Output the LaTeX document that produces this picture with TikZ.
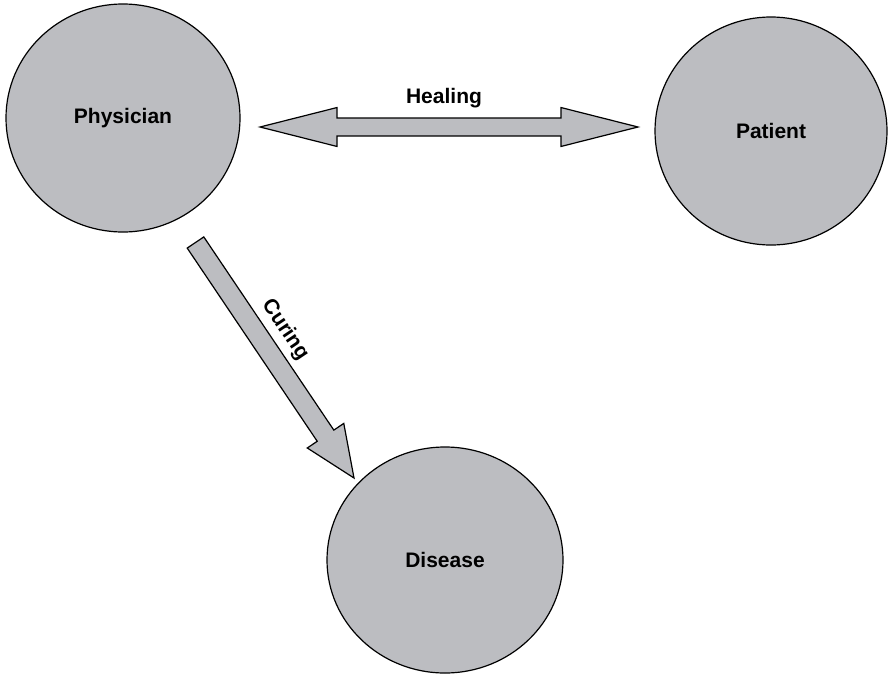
\documentclass[tikz,border=0pt]{standalone}
\usepackage{fontspec}
\setmainfont{Liberation Sans}
\usetikzlibrary{calc,shapes.geometric}
\definecolor{discgray}{RGB}{188,189,193}
\tikzset{
  disc/.style     = {ellipse,draw=black,line width=0.9pt,fill=discgray,
                     inner sep=0pt,font=\fontsize{15.75}{18}\selectfont\bfseries},
  fatarrow/.style = {draw=black,line width=0.9pt,fill=discgray,line join=miter},
  lbl/.style      = {font=\fontsize{15.75}{18}\selectfont\bfseries,inner sep=0pt},
}

\begin{document}
\begin{tikzpicture}[x=0.75pt,y=-0.75pt]
  \useasboundingbox (0,0) rectangle (888,675);
  % the three parties
  \node[disc,minimum width=175.5pt,minimum height=171pt] (phys) at (123,118) {Physician};
  \node[disc,minimum width=174pt,minimum height=171pt]   (pat)  at (771,131) {Patient};
  \node[disc,minimum width=177pt,minimum height=169.5pt] (dis)  at (445,560) {Disease};
  % healing: double block arrow
  \coordinate (healL) at (260,127);
  \coordinate (healR) at (638,127);
  \coordinate (hbL) at ($(healL)!57.75pt!(healR)$);
  \coordinate (hbR) at ($(healR)!57.75pt!(healL)$);
  \draw[fatarrow] (healL) -- ($(hbL)!14.6pt!90:(healR)$) -- ($(hbL)!6.75pt!90:(healR)$)
        -- ($(hbR)!6.75pt!-90:(healL)$) -- ($(hbR)!14.6pt!-90:(healL)$) -- (healR)
        -- ($(hbR)!14.6pt!90:(healL)$) -- ($(hbR)!6.75pt!90:(healL)$)
        -- ($(hbL)!6.75pt!-90:(healR)$) -- ($(hbL)!14.6pt!-90:(healR)$) -- cycle;
  \node[lbl,anchor=base] (heallbl) at (444,103) {Healing};
  % curing: single block arrow
  \coordinate (curT) at (195.5,242.5);
  \coordinate (curH) at (354,478);
  \coordinate (cb) at ($(curH)!38.25pt!(curT)$);
  \draw[fatarrow] ($(curT)!7.5pt!90:(curH)$) -- ($(cb)!7.5pt!90:(curH)$)
        -- ($(cb)!16.5pt!90:(curH)$) -- (curH) -- ($(cb)!16.5pt!-90:(curH)$)
        -- ($(cb)!7.5pt!-90:(curH)$) -- ($(curT)!7.5pt!-90:(curH)$) -- cycle;
  \node[lbl,rotate=-56] (curlbl) at (285,330) {Curing};
\end{tikzpicture}
\end{document}
